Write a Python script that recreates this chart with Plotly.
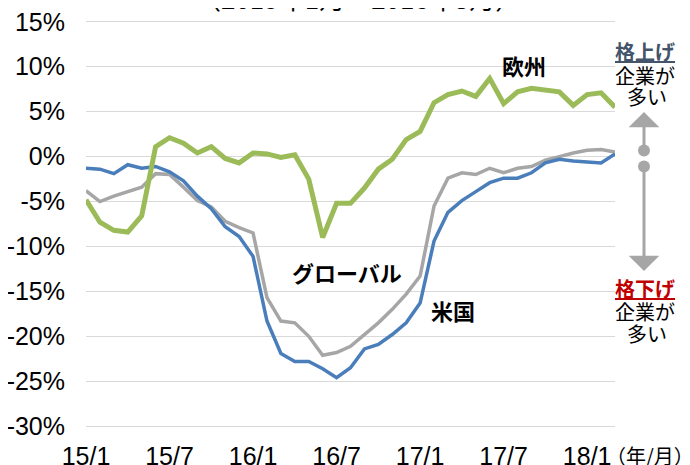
import plotly.graph_objects as go

# ---- data ----
months = [f"{y % 100}/{m}" for y in range(2015, 2019) for m in range(1, 13)][:39]
global_vals = [-3.8, -5.0, -4.4, -3.9, -3.4, -1.9, -2.0, -3.4, -4.9, -5.6,
               -7.2, -7.9, -8.5, -15.7, -18.3, -18.5, -20.0, -22.1, -21.8, -21.1,
               -19.8, -18.5, -17.0, -15.3, -13.3, -5.5, -2.4, -1.8, -2.0, -1.3,
               -1.8, -1.3, -1.1, -0.4, 0.0, 0.4, 0.7, 0.8, 0.5]
us_vals = [-1.3, -1.4, -1.9, -0.9, -1.3, -1.1, -1.7, -2.7, -4.4, -5.8,
           -7.8, -8.9, -11.1, -18.3, -21.9, -22.8, -22.8, -23.6, -24.6, -23.5,
           -21.4, -20.9, -19.8, -18.5, -16.3, -9.4, -6.2, -4.9, -3.9, -2.9,
           -2.4, -2.4, -1.8, -0.7, -0.3, -0.5, -0.6, -0.7, 0.3]
europe_vals = [-4.8, -7.3, -8.2, -8.4, -6.6, 1.1, 2.1, 1.5, 0.4, 1.1,
               -0.2, -0.7, 0.4, 0.3, -0.1, 0.2, -2.5, -9.0, -5.2, -5.2,
               -3.5, -1.4, -0.3, 1.9, 2.8, 6.0, 6.9, 7.3, 6.7, 8.7,
               5.9, 7.2, 7.6, 7.4, 7.2, 5.7, 6.9, 7.1, 5.5]
tick_labels = ["15/1", "15/7", "16/1", "16/7", "17/1", "17/7", "18/1"]
y_ticks = [15, 10, 5, 0, -5, -10, -15, -20, -25, -30]

# ---- layout geometry (page has an 8px body margin) ----
OFF = 8
PAGE_W, PAGE_H = 690, 465
Y_MIN, Y_MAX, Y_PAD = -30, 15, 0.2
TOP_GRID, BOT_GRID = 22, 426                 # page pixels of 15% / -30% gridlines
SCALE = (BOT_GRID - TOP_GRID) / (Y_MAX - Y_MIN)
PL, PR = 86, 615
PT, PB = TOP_GRID - Y_PAD * SCALE, BOT_GRID + Y_PAD * SCALE
W, H = PAGE_W - OFF, PAGE_H - OFF
L, T = PL - OFF, PT - OFF
R, B = PAGE_W - PR, PAGE_H - PB
PW, PH = PR - PL, PB - PT


def px(x):
    return (x - PL) / PW


def py(y):
    return (PB - y) / PH


NUM_FONT = "Arial, 'Liberation Sans', sans-serif"
JP_FONT = "'Noto Sans CJK JP', sans-serif"
GRID = "#d9d9d9"

fig = go.Figure()
fig.add_trace(go.Scatter(x=months, y=global_vals, mode="lines", name="グローバル",
                         line=dict(color="#a6a6a6", width=3.5)))
fig.add_trace(go.Scatter(x=months, y=us_vals, mode="lines", name="米国",
                         line=dict(color="#4a7ebb", width=3.5)))
fig.add_trace(go.Scatter(x=months, y=europe_vals, mode="lines", name="欧州",
                         line=dict(color="#9bbb59", width=5)))

tick_idx = [months.index(t) for t in tick_labels]
y_range = [Y_MIN - Y_PAD, Y_MAX + Y_PAD]

fig.update_layout(
    width=W, height=H,
    margin=dict(l=L, r=R, t=T, b=B, autoexpand=False),
    paper_bgcolor="white", plot_bgcolor="white",
    showlegend=False,
    xaxis=dict(type="category", range=[0, len(months) - 1],
               tickmode="array", tickvals=tick_labels, ticktext=tick_labels,
               showgrid=False, zeroline=False, showline=False, ticks="",
               tickfont=dict(family=NUM_FONT, size=25, color="black"),
               ticklabelstandoff=11, ticklabeloverflow="allow", automargin=False),
    xaxis2=dict(overlaying="x", anchor="free",
                position=(0 - y_range[0]) / (y_range[1] - y_range[0]), side="bottom",
                range=[0, len(months) - 1], tickmode="array", tickvals=tick_idx,
                showticklabels=False, ticks="outside", ticklen=6, tickwidth=1,
                tickcolor=GRID, showline=True, linecolor=GRID, linewidth=1,
                showgrid=False, zeroline=False, automargin=False),
    yaxis=dict(range=y_range, tickmode="array", tickvals=y_ticks,
               ticktext=[f"{v}%" for v in y_ticks],
               showgrid=True, gridcolor=GRID, gridwidth=1, zeroline=False,
               showline=False, ticks="",
               tickfont=dict(family=NUM_FONT, size=25, color="black"),
               ticklabelstandoff=20, ticklabeloverflow="allow", automargin=False),
)

ann = []


def text(x, y, s, size=20, color="black", family=JP_FONT):
    ann.append(dict(x=px(x), y=py(y), xref="paper", yref="paper", text=s,
                    showarrow=False, xanchor="center", yanchor="middle",
                    font=dict(family=family, size=size, color=color)))


text(358, -2, "（2015年1月～2018年3月）", size=26)
text(524, 65, "<b>欧州</b>", size=22)
text(347, 272, "<b>グローバル</b>", size=22)
text(453, 310, "<b>米国</b>", size=22)
text(645, 52, "<b><u>格上げ</u></b>", size=20, color="#44546a")
text(645, 76, "企業が", size=20)
text(647, 97, "多い", size=20)
text(645, 288, "<b><u>格下げ</u></b>", size=20, color="#c00000")
text(645, 311, "企業が", size=20)
text(647, 333, "多い", size=20)
text(650, 455, "（年/月）", size=20)

for tip, tail in [(112, 152), (271, 165)]:
    ann.append(dict(x=px(644), y=py(tip), xref="paper", yref="paper", text="",
                    showarrow=True, ax=0, ay=tail - tip, axref="pixel", ayref="pixel",
                    arrowside="end+start", arrowhead=1, startarrowhead=6,
                    arrowsize=1.7, startarrowsize=1.0, arrowwidth=3,
                    arrowcolor="#a6a6a6", standoff=0, startstandoff=0))

fig.update_layout(annotations=ann)
fig.write_html("out.html")
